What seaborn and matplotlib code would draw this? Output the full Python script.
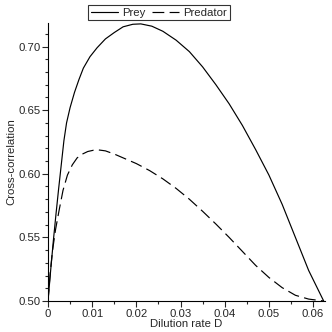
import matplotlib
matplotlib.use("Agg")
import matplotlib.pyplot as plt
import seaborn as sns
from matplotlib.ticker import MultipleLocator

# Values
prey_d = [0, 0.0006, 0.0012, 0.0018, 0.0024, 0.0030, 0.0036, 0.0042, 0.0050, 0.0060,
          0.0070, 0.0080, 0.0095, 0.0111, 0.0130, 0.0150, 0.0170, 0.0192, 0.0210,
          0.0235, 0.0260, 0.0290, 0.0320, 0.0350, 0.0380, 0.0410, 0.0440, 0.0470,
          0.0500, 0.0530, 0.0560, 0.0590, 0.0624]
prey_r = [0.500, 0.524, 0.547, 0.568, 0.588, 0.607, 0.626, 0.640, 0.652, 0.664,
          0.674, 0.683, 0.692, 0.699, 0.706, 0.711, 0.7155, 0.7175, 0.7178,
          0.716, 0.712, 0.705, 0.696, 0.684, 0.670, 0.655, 0.638, 0.619,
          0.599, 0.576, 0.550, 0.524, 0.500]

pred_d = [0, 0.0005, 0.0010, 0.0017, 0.0025, 0.0034, 0.0044, 0.0055, 0.0066, 0.0078,
          0.0090, 0.0103, 0.0115, 0.0130, 0.0150, 0.0170, 0.0200, 0.0230, 0.0260,
          0.0290, 0.0320, 0.0350, 0.0380, 0.0410, 0.0440, 0.0470, 0.0500, 0.0530,
          0.0560, 0.0590, 0.0624]
pred_r = [0.500, 0.522, 0.539, 0.556, 0.571, 0.587, 0.599, 0.607, 0.6125, 0.6155,
          0.6175, 0.6185, 0.6187, 0.618, 0.6155, 0.6125, 0.608, 0.6025, 0.596,
          0.5885, 0.580, 0.5705, 0.5605, 0.550, 0.539, 0.528, 0.5185, 0.5105,
          0.5045, 0.5015, 0.500]

sns.set_style("ticks")
plt.rcParams['font.family'] = ['Liberation Sans', 'DejaVu Sans']

fig = plt.figure(figsize=(3.32, 3.32), dpi=100)
ax = fig.add_axes([48 / 332, 1 - 301 / 332, 277 / 332, 278 / 332])

sns.lineplot(x=prey_d, y=prey_r, ax=ax, color="black", linewidth=0.85, label="Prey")
sns.lineplot(x=pred_d, y=pred_r, ax=ax, color="black", linewidth=0.85,
             dashes=(10, 4.5), label="Predator")

ax.set_xlim(0, 0.0627)
ax.set_ylim(0.50, 0.7185)
ax.set_xticks([0, 0.01, 0.02, 0.03, 0.04, 0.05, 0.06])
ax.set_xticklabels(["0", "0.01", "0.02", "0.03", "0.04", "0.05", "0.06"])
ax.xaxis.set_minor_locator(MultipleLocator(0.005))
ax.yaxis.set_major_locator(MultipleLocator(0.05))
ax.yaxis.set_minor_locator(MultipleLocator(0.01))
ax.tick_params(axis="both", which="major", length=4, width=0.8, labelsize=8.2, pad=1.5)
ax.tick_params(axis="both", which="minor", length=2.5, width=0.8)
for s in ["top", "right"]:
    ax.spines[s].set_visible(False)
for s in ["left", "bottom"]:
    ax.spines[s].set_linewidth(0.8)
    ax.spines[s].set_color("black")

ax.set_xlabel("Dilution rate D", fontsize=8.2, labelpad=0)
ax.set_ylabel("Cross-correlation", fontsize=8.2, labelpad=1)

ax.get_legend().remove()
handles, labels = ax.get_legend_handles_labels()
leg = fig.legend(handles, labels, loc="center", bbox_to_anchor=(159 / 332, 1 - 12.5 / 332),
                 ncol=2, fontsize=8.2, frameon=True, fancybox=False, edgecolor="black",
                 handlelength=2.4, handletextpad=0.4, columnspacing=0.5,
                 borderpad=0.2, borderaxespad=0)
leg.get_frame().set_linewidth(0.8)

fig.savefig("out.png", dpi=100)
